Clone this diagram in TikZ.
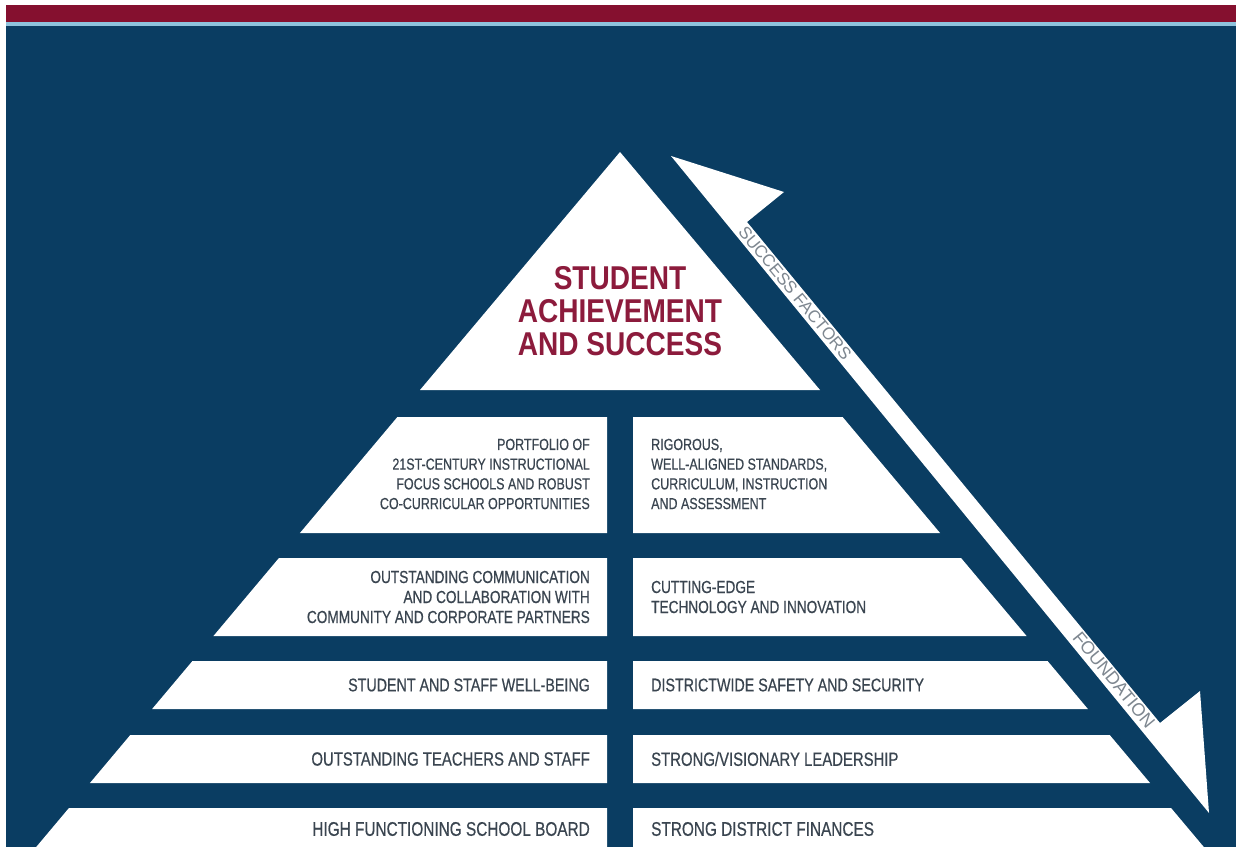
\documentclass[tikz,border=0pt]{standalone}
\usepackage{fontspec}
\setmainfont{Liberation Sans}
\newfontfamily\condfont[FakeStretch=0.85]{Liberation Sans}
\newfontfamily\rowfont[FakeStretch=0.78,FakeBold=0.5]{Liberation Sans}
\newfontfamily\bandfont{Liberation Sans}
\definecolor{navy}{HTML}{0A3D62}
\definecolor{crimson}{HTML}{85102F}
\definecolor{skyline}{HTML}{8EC3DD}
\definecolor{titlered}{HTML}{8C1B3C}
\definecolor{rowtext}{HTML}{3A4550}
\definecolor{bandgray}{HTML}{7E8790}
\tikzset{
  piece/.style={fill=white},
  titletxt/.style={text=titlered, align=center, inner sep=0pt,
    font=\condfont\bfseries\fontsize{33}{33}\selectfont},
  lefttxt/.style={text=rowtext, anchor=east, align=right, inner sep=0pt},
  righttxt/.style={text=rowtext, anchor=west, align=left, inner sep=0pt},
  bandtxt/.style={text=bandgray, inner sep=0pt, rotate=-50.6},
  rowA/.style={font=\rowfont\fontsize{16}{19.7}\selectfont},
  rowB/.style={font=\rowfont\fontsize{17.5}{20}\selectfont},
  rowC/.style={font=\rowfont\fontsize{18.3}{20}\selectfont},
  rowD/.style={font=\rowfont\fontsize{19.1}{20}\selectfont},
  rowE/.style={font=\rowfont\fontsize{19.7}{20}\selectfont},
}
\begin{document}
\begin{tikzpicture}[x=1pt,y=-1pt]
\useasboundingbox (0,0) rectangle (1238,850);
\clip (0,0) rectangle (1238,850);
% background bands
\fill[white] (0,0) rectangle (1238,850);
\fill[crimson] (6,5) rectangle (1236,22.5);
\fill[skyline] (6,22.5) rectangle (1236,26);
\fill[navy] (6,26) rectangle (1236,847);
% top triangle
\fill[piece] (620,152) -- (420,390) -- (820,390) -- cycle;
% pyramid rows
\foreach \yt/\yb in {417/533, 558/636, 661/709, 735/783, 808/856}{
  \fill[piece] (607,\yt) -- ({620-0.84*(\yt-152)},\yt) -- ({620-0.84*(\yb-152)},\yb) -- (607,\yb) -- cycle;
  \fill[piece] (633,\yt) -- ({620+0.84*(\yt-152)},\yt) -- ({620+0.84*(\yb-152)},\yb) -- (633,\yb) -- cycle;
}
% arrow band
\coordinate (tipT) at (671,156);
\coordinate (cornT) at (784,192);
\coordinate (notchT) at (747,222);
\coordinate (notchB) at (1160,723);
\coordinate (cornB) at (1200,691);
\coordinate (tipB) at (1209,813);
\fill[white] (tipT) -- (cornT) -- (notchT) -- (notchB) -- (cornB) -- (tipB) -- cycle;
\node[bandtxt, font=\bandfont\fontsize{17}{17}\selectfont] (sf) at (795,293) {SUCCESS FACTORS};
\node[bandtxt, font=\bandfont\fontsize{18}{18}\selectfont] (fd) at (1114,680) {FOUNDATION};
% title
\node[titletxt] (title) at (620,311) {STUDENT\\ACHIEVEMENT\\AND SUCCESS};
% row texts
\node[lefttxt, rowA] (l1) at (590,474) {PORTFOLIO OF\\21ST-CENTURY INSTRUCTIONAL\\FOCUS SCHOOLS AND ROBUST\\CO-CURRICULAR OPPORTUNITIES};
\node[righttxt, rowA] (r1) at (651,474) {RIGOROUS,\\WELL-ALIGNED STANDARDS,\\CURRICULUM, INSTRUCTION\\AND ASSESSMENT};
\node[lefttxt, rowB] (l2) at (590,597) {OUTSTANDING COMMUNICATION\\AND COLLABORATION WITH\\COMMUNITY AND CORPORATE PARTNERS};
\node[righttxt, rowB] (r2) at (651,597) {CUTTING-EDGE\\TECHNOLOGY AND INNOVATION};
\node[lefttxt, rowC] (l3) at (590,685) {STUDENT AND STAFF WELL-BEING};
\node[righttxt, rowC] (r3) at (651,685) {DISTRICTWIDE SAFETY AND SECURITY};
\node[lefttxt, rowD] (l4) at (590,759) {OUTSTANDING TEACHERS AND STAFF};
\node[righttxt, rowD] (r4) at (651,759) {STRONG/VISIONARY LEADERSHIP};
\node[lefttxt, rowE] (l5) at (590,829) {HIGH FUNCTIONING SCHOOL BOARD};
\node[righttxt, rowE] (r5) at (651,829) {STRONG DISTRICT FINANCES};
\end{tikzpicture}
\end{document}
